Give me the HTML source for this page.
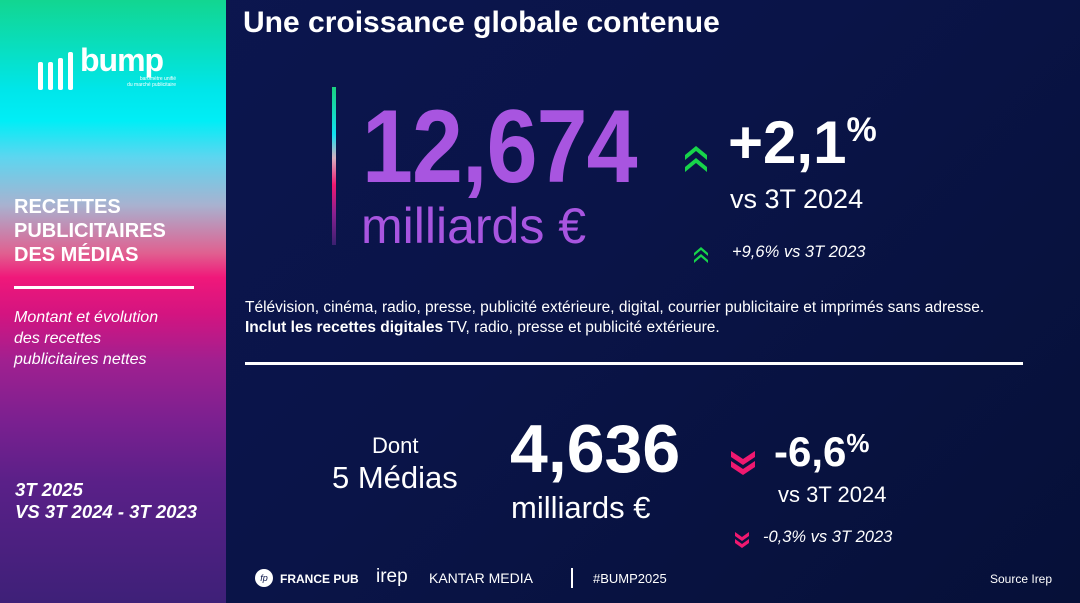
<!DOCTYPE html>
<html><head><meta charset="utf-8"><style>
*{margin:0;padding:0;box-sizing:border-box}
body{width:1080px;height:603px;overflow:hidden;position:relative;font-family:"Liberation Sans",sans-serif;background:linear-gradient(135deg,#0c1650 0%,#0a1448 50%,#061038 100%);color:#fff}
.a{position:absolute;white-space:nowrap}
#left{position:absolute;left:0;top:0;width:226px;height:603px;background:linear-gradient(180deg,#12d690 0%,#00e6ea 15%,#00eef6 20%,#5cd6f0 26%,#a8b2d0 34%,#e06090 42%,#f0187a 46%,#d41480 52%,#a02090 60%,#7a2090 70%,#5a2088 80%,#3e2078 100%)}
.b{font-weight:bold}
</style></head><body>
<div id="left">
 <div class="a" style="left:38px;top:50px;display:flex;gap:5px">
  <div style="width:5px;height:28px;margin-top:12px;background:#fff;border-radius:2px"></div>
  <div style="width:5px;height:28px;margin-top:12px;background:#fff;border-radius:2px"></div>
  <div style="width:5px;height:32px;margin-top:8px;background:#fff;border-radius:2px"></div>
  <div style="width:5px;height:38px;margin-top:2px;background:#fff;border-radius:2px"></div>
 </div>
 <div class="a b" style="left:80px;top:42px;font-size:32px;letter-spacing:-1px">bump</div>
 <div class="a" style="left:86px;top:76px;font-size:5px;text-align:right;line-height:6px;width:90px">baromètre unifié<br>du marché publicitaire</div>
 <div class="a b" style="left:14px;top:195px;font-size:20px;line-height:24px">RECETTES<br>PUBLICITAIRES<br>DES MÉDIAS</div>
 <div class="a" style="left:14px;top:286px;width:180px;height:3px;background:#fff"></div>
 <div class="a" style="left:14px;top:307px;font-size:16px;font-style:italic;line-height:21px">Montant et évolution<br>des recettes<br>publicitaires nettes</div>
 <div class="a b" style="left:15px;top:479px;font-size:18.5px;font-style:italic;line-height:22px">3T 2025<br>VS 3T 2024 - 3T 2023</div>
</div>
<div class="a b" style="left:243px;top:6px;font-size:30px">Une croissance globale contenue</div>
<div class="a" style="left:332px;top:87px;width:4px;height:158px;background:linear-gradient(#1ad080,#10e0f0 30%,#d8b0c0 45%,#f01870 62%,#8a2090 80%,#3a2070)"></div>
<div class="a b" style="left:362px;top:88px;font-size:104px;color:#a855e0;letter-spacing:-1px;transform:scaleX(0.88);transform-origin:left top">12,674</div>
<div class="a" style="left:361px;top:197px;font-size:50px;color:#a855e0">milliards €</div>
<svg class="a" style="left:683px;top:143px" width="26" height="30"><path d="M2 12L13 3L24 12V17L13 8L2 17Z M2 24L13 15L24 24V29L13 20L2 29Z" fill="#17d44a"/></svg>
<div class="a b" style="left:728px;top:108px;font-size:60px">+2,1<span style="font-size:34px;vertical-align:22px">%</span></div>
<div class="a" style="left:730px;top:184px;font-size:27px">vs 3T 2024</div>
<svg class="a" style="left:693px;top:246px" width="16" height="18"><path d="M1 7L8 1L15 7V10L8 4L1 10Z M1 14L8 8L15 14V17L8 11L1 17Z" fill="#17d44a"/></svg>
<div class="a" style="left:732px;top:243px;font-size:16.5px;font-style:italic">+9,6% vs 3T 2023</div>
<div class="a" style="left:245px;top:298px;font-size:15.5px;line-height:20px">Télévision, cinéma, radio, presse, publicité extérieure, digital, courrier publicitaire et imprimés sans adresse.<br><b>Inclut les recettes digitales</b> TV, radio, presse et publicité extérieure.</div>
<div class="a" style="left:245px;top:362px;width:778px;height:3px;background:#fff"></div>
<div class="a" style="left:372px;top:433px;font-size:22px">Dont</div>
<div class="a" style="left:332px;top:460px;font-size:31px">5 Médias</div>
<div class="a b" style="left:510px;top:410px;font-size:68px">4,636</div>
<div class="a" style="left:511px;top:490px;font-size:31px">milliards €</div>
<svg class="a" style="left:730px;top:450px" width="26" height="26"><path d="M1 1L13 9L25 1V7L13 15L1 7Z M1 11L13 19L25 11V17L13 25L1 17Z" fill="#f01870"/></svg>
<div class="a b" style="left:774px;top:428px;font-size:42px">-6,6<span style="font-size:26px;vertical-align:14px">%</span></div>
<div class="a" style="left:778px;top:482px;font-size:22px">vs 3T 2024</div>
<svg class="a" style="left:734px;top:531px" width="16" height="18"><path d="M1 1L8 6L15 1V5L8 10L1 5Z M1 8L8 13L15 8V12L8 17L1 12Z" fill="#f01870"/></svg>
<div class="a" style="left:763px;top:528px;font-size:16.5px;font-style:italic">-0,3% vs 3T 2023</div>
<div class="a" style="left:255px;top:569px;width:18px;height:18px;border-radius:50%;background:#fff;color:#0a1448;font-size:9px;text-align:center;line-height:18px;font-style:italic">fp</div>
<div class="a b" style="left:280px;top:572px;font-size:12px">FRANCE PUB</div>
<div class="a" style="left:376px;top:566px;font-size:19px">irep</div>
<div class="a" style="left:429px;top:570px;font-size:14px">KANTAR MEDIA</div>
<div class="a" style="left:571px;top:568px;width:2px;height:20px;background:#fff"></div>
<div class="a" style="left:593px;top:571px;font-size:13px">#BUMP2025</div>
<div class="a" style="left:990px;top:572px;font-size:12px">Source Irep</div>
</body></html>
